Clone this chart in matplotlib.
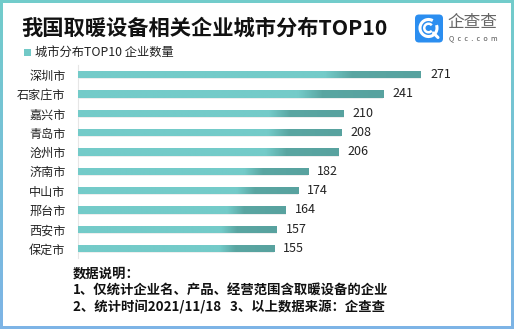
import numpy as np
import matplotlib
matplotlib.use("Agg")
import matplotlib.pyplot as plt
from matplotlib.patches import FancyBboxPatch, Rectangle, Arc
from matplotlib.colors import LinearSegmentedColormap

plt.rcParams['font.family'] = ['Noto Sans CJK SC', 'DejaVu Sans']

cities = ["深圳市", "石家庄市", "嘉兴市", "青岛市", "沧州市", "济南市", "中山市", "邢台市", "西安市", "保定市"]
values = [271, 241, 210, 208, 206, 182, 174, 164, 157, 155]
title = "我国取暖设备相关企业城市分布TOP10"
legend_label = "城市分布TOP10 企业数量"
notes = ["数据说明：", "1、仅统计企业名、产品、经营范围含取暖设备的企业", "2、统计时间2021/11/18   3、以上数据来源：企查查"]

W, H = 514, 329
fig = plt.figure(figsize=(W / 100, H / 100), dpi=100)

# background / border
bg = fig.add_axes([0, 0, 1, 1])
bg.set_xlim(0, W); bg.set_ylim(H, 0); bg.axis('off')
grad = np.linspace(0, 1, 100).reshape(-1, 1)
bcmap = LinearSegmentedColormap.from_list('b', ['#72cccb', '#7db4e6'])
bg.imshow(grad, extent=[0, W, H, 0], aspect='auto', cmap=bcmap, zorder=0)
bg.add_patch(Rectangle((3, 3), W - 6, H - 6, facecolor='white', edgecolor='none', zorder=1))

# title
bg.text(21, 28, title, fontsize=15.3, fontweight='bold', color='#111111', va='center', ha='left', zorder=3)
# legend
bg.add_patch(Rectangle((24, 48.5), 7, 7, facecolor='#72c9c7', edgecolor='none', zorder=3))
bg.text(35, 52, legend_label, fontsize=8.8, color='#222222', va='center', ha='left', zorder=3)

# logo
bg.add_patch(FancyBboxPatch((415, 14.5), 28, 28, boxstyle='round,pad=0,rounding_size=4',
                            facecolor='#2b8ef0', edgecolor='none', zorder=3))
cx, cy = 428.5, 28
bg.add_patch(Arc((cx, cy), 17, 17, theta1=-20, theta2=300, color='white', lw=2.2, zorder=4))
bg.add_patch(Arc((cx, cy), 8.5, 8.5, theta1=40, theta2=320, color='white', lw=1.8, zorder=4))
bg.plot([cx + 5, cx + 9.5], [cy + 5, cy + 9.5], color='white', lw=2.2, zorder=4, solid_capstyle='round')
bg.text(447, 22.5, "企查查", fontsize=12, color='#666666', va='center', ha='left', zorder=3)
bg.text(449, 38.5, "Q  c  c  .  c  o  m", fontsize=5.2, color='#555555', va='center', ha='left', zorder=3)

# notes
ys = [274, 291, 307]
for t, y in zip(notes, ys):
    bg.text(73, y, t, fontsize=9.6, fontweight='bold', color='#111111', va='center', ha='left', zorder=3)

# bar chart
ax_l, ax_r = 78, 498
ax_t, ax_b = 65.0, 258.3
ax = fig.add_axes([ax_l / W, 1 - ax_b / H, (ax_r - ax_l) / W, (ax_b - ax_t) / H])
ax.set_facecolor('none')
scale = (421 - 78) / 271.0
ypos = np.arange(len(cities))
h = 0.37
cmap = LinearSegmentedColormap.from_list('g', [(0, '#74cbc9'), (0.72, '#74cbc9'), (0.8, '#5aa6a2'), (1, '#58a29f')])
gimg = np.linspace(0, 1, 256).reshape(1, -1)
# shadow
ax.barh(ypos + 0.06, values, height=h, color='#eeeeee', zorder=1)
bars = ax.barh(ypos, values, height=h, color='#74cbc9', zorder=2)
for b, v, y in zip(bars, values, ypos):
    im = ax.imshow(gimg, extent=[0, v, y + h / 2, y - h / 2], aspect='auto', cmap=cmap, zorder=3)
    im.set_clip_path(b)
    ax.text(v + 9 / scale, y, str(v), fontsize=9, color='#222222', va='center', ha='left')
ax.set_xlim(0, (ax_r - ax_l) / scale)
ax.set_ylim(9.5, -0.5)
ax.set_yticks(ypos)
ax.set_yticklabels(cities, fontsize=8.7, color='#222222')
ax.tick_params(axis='y', length=0, pad=9)
ax.set_xticks([])
for s in ['top', 'right', 'bottom']:
    ax.spines[s].set_visible(False)
ax.spines['left'].set_color('#e6e6e6')

fig.savefig('out.png', dpi=100)
